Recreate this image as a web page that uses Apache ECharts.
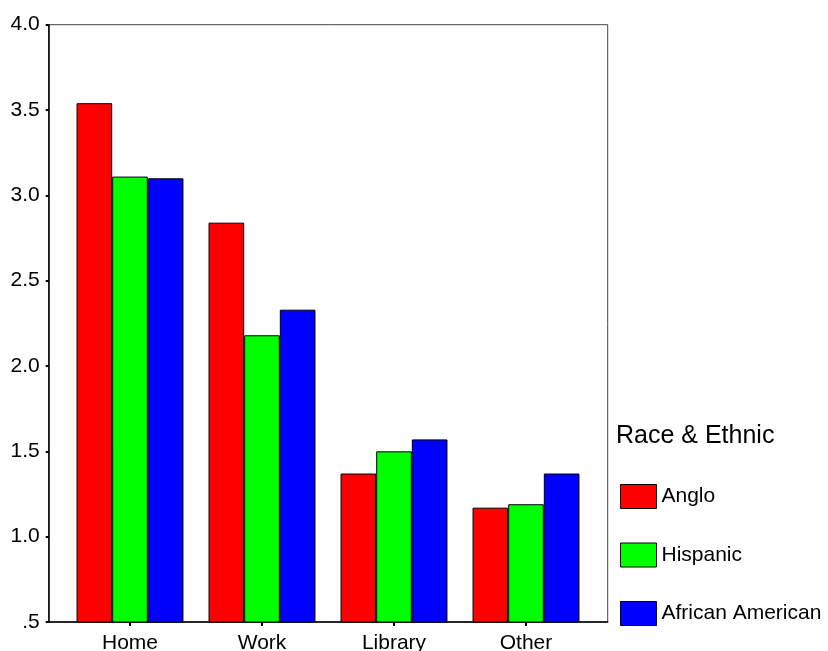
<!DOCTYPE html>
<html>
<head>
<meta charset="utf-8">
<script src="https://cdn.jsdelivr.net/npm/echarts@6/dist/echarts.min.js"></script>
<style>html,body{margin:0;padding:0;background:#fff}#c{width:828px;height:651px}</style>
</head>
<body>
<div id="c"></div>
<script>
var categories = ['Home', 'Work', 'Library', 'Other'];
var anglo = [3.54, 2.84, 1.37, 1.17];
var hispanic = [3.11, 2.18, 1.50, 1.19];
var africanAmerican = [3.10, 2.33, 1.57, 1.37];
var seriesNames = ['Anglo', 'Hispanic', 'African American'];
var yTickValues = [0.5, 1.0, 1.5, 2.0, 2.5, 3.0, 3.5, 4.0];
var yTickLabels = ['.5', '1.0', '1.5', '2.0', '2.5', '3.0', '3.5', '4.0'];
var legendTitle = 'Race & Ethnic';

var FONT = "'Liberation Sans', Arial, sans-serif";
var chart = echarts.init(document.getElementById('c'), null, {renderer: 'canvas'});
var colors = ['#ff0000', '#00ff00', '#0000ff'];
var values = [anglo, hispanic, africanAmerican];

var series = seriesNames.map(function (name, i) {
  return {
    name: name,
    type: 'bar',
    xAxisIndex: 1,
    yAxisIndex: 1,
    data: values[i],
    barGap: '0%',
    barCategoryGap: '19%',
    itemStyle: {color: colors[i], borderColor: '#000', borderWidth: 1},
    emphasis: {disabled: true},
    animation: false
  };
});

chart.setOption({
  animation: false,
  backgroundColor: '#fff',
  textStyle: {fontFamily: FONT},
  title: {
    text: legendTitle,
    left: 611,
    top: 419,
    textStyle: {fontFamily: FONT, fontSize: 25, fontWeight: 'normal', color: '#000'}
  },
  legend: {
    orient: 'vertical',
    left: 620,
    top: 484,
    padding: 0,
    itemWidth: 36,
    itemHeight: 24,
    itemGap: 33.5,
    icon: 'rect',
    data: seriesNames,
    textStyle: {fontFamily: FONT, fontSize: 21, color: '#000'},
    itemStyle: {borderColor: '#000', borderWidth: 1}
  },
  grid: [
    {left: 48.7, top: 24.7, right: 220.3, bottom: 29, show: true, borderColor: '#444', borderWidth: 1, backgroundColor: 'transparent', containLabel: false, outerBoundsMode: 'none'},
    {left: 64, top: 24.7, right: 236, bottom: 29, containLabel: false, outerBoundsMode: 'none'}
  ],
  xAxis: [
    {gridIndex: 0, type: 'value', min: 0, max: 1, axisLabel: {show: false}, axisTick: {show: false}, splitLine: {show: false},
     axisLine: {show: true, lineStyle: {color: '#000', width: 1.5}}},
    {gridIndex: 1, type: 'category', data: categories, boundaryGap: true,
     axisLine: {show: false},
     axisTick: {show: true, alignWithLabel: true, length: 4, lineStyle: {color: '#000', width: 2}},
     axisLabel: {fontFamily: FONT, fontSize: 21, color: '#000', margin: 11},
     splitLine: {show: false}}
  ],
  yAxis: [
    {gridIndex: 0, type: 'value', min: 0.5, max: 4.0, interval: 0.5,
     axisLine: {show: true, lineStyle: {color: '#000', width: 1.5}},
     axisTick: {show: true, length: 3, lineStyle: {color: '#000', width: 2}},
     axisLabel: {fontFamily: FONT, fontSize: 21, color: '#000', margin: 9,
       formatter: function (v) {
         for (var i = 0; i < yTickValues.length; i++) {
           if (Math.abs(yTickValues[i] - v) < 1e-9) return yTickLabels[i];
         }
         return '';
       }},
     splitLine: {show: false}},
    {gridIndex: 1, type: 'value', min: 0.5, max: 4.0, interval: 0.5, show: false, splitLine: {show: false}}
  ],
  series: series
});
</script>
</body>
</html>
